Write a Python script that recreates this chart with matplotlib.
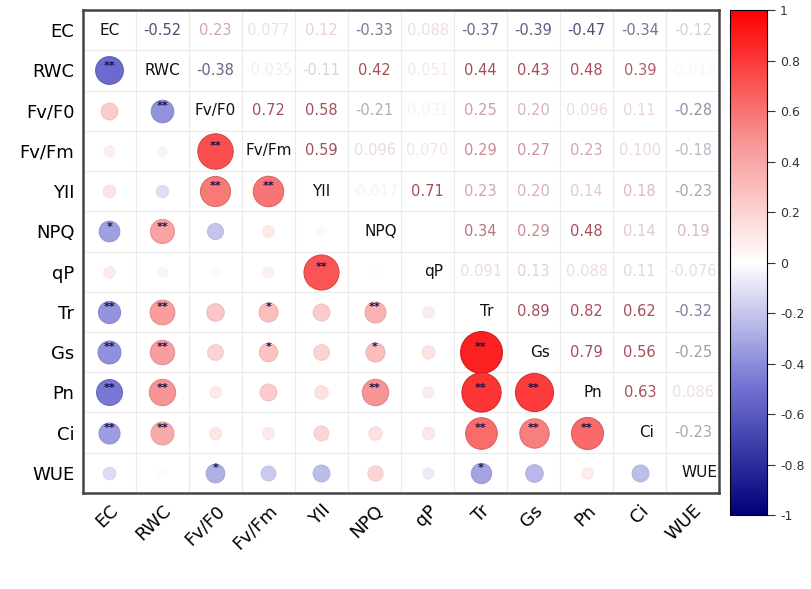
import numpy as np
import matplotlib
matplotlib.use("Agg")
import matplotlib.pyplot as plt
from matplotlib.colors import LinearSegmentedColormap, Normalize
from matplotlib.colorbar import ColorbarBase

labels = ["EC", "RWC", "Fv/F0", "Fv/Fm", "YII", "NPQ", "qP", "Tr", "Gs", "Pn", "Ci", "WUE"]

# upper triangle of the correlation matrix, row by row (diagonal excluded)
upper = [
    [-0.52, 0.23, 0.077, 0.12, -0.33, 0.088, -0.37, -0.39, -0.47, -0.34, -0.12],
    [-0.38, -0.035, -0.11, 0.42, 0.051, 0.44, 0.43, 0.48, 0.39, -0.012],
    [0.72, 0.58, -0.21, 0.031, 0.25, 0.20, 0.096, 0.11, -0.28],
    [0.59, 0.096, 0.070, 0.29, 0.27, 0.23, 0.0998, -0.18],
    [-0.017, 0.71, 0.23, 0.20, 0.14, 0.18, -0.23],
    [0.0, 0.34, 0.29, 0.48, 0.14, 0.19],
    [0.091, 0.13, 0.088, 0.11, -0.076],
    [0.89, 0.82, 0.62, -0.32],
    [0.79, 0.56, -0.25],
    [0.63, 0.086],
    [-0.23],
]

# significance marks for (row, col) in the lower triangle
stars = {
    (1, 0): "**", (2, 1): "**", (3, 2): "**", (4, 2): "**", (4, 3): "**",
    (5, 0): "*", (5, 1): "**", (6, 4): "**",
    (7, 0): "**", (7, 1): "**", (7, 3): "*", (7, 5): "**",
    (8, 0): "**", (8, 1): "**", (8, 3): "*", (8, 5): "*", (8, 7): "**",
    (9, 0): "**", (9, 1): "**", (9, 5): "**", (9, 7): "**", (9, 8): "**",
    (10, 0): "**", (10, 1): "**", (10, 7): "**", (10, 8): "**", (10, 9): "**",
    (11, 2): "*", (11, 7): "*",
}

n = len(labels)
corr = np.eye(n)
for i, row in enumerate(upper):
    for k, v in enumerate(row):
        j = i + 1 + k
        corr[i, j] = v
        corr[j, i] = v

cmap = LinearSegmentedColormap.from_list(
    "bwr_corr", [(0.0, "#00007a"), (0.25, "#7070d2"), (0.5, "#ffffff"),
                 (0.75, "#f89090"), (1.0, "#ff0000")])
norm = Normalize(-1, 1)

neg_text = np.array([80, 80, 118]) / 255
pos_text = np.array([168, 78, 88]) / 255


def fmt(v):
    if abs(v) < 0.1:
        return f"{v:.3f}"
    return f"{v:.2f}"


def text_color(v):
    if v == 0:
        return "white"
    w = min(1.0, 0.06 + abs(v) / 0.45) ** 1.2
    target = pos_text if v > 0 else neg_text
    return np.ones(3) * (1 - w) + target * w


fig = plt.figure(figsize=(8.11, 5.89), dpi=100)
ax = fig.add_axes([0.102, 0.163, 0.785, 0.82])
ax.set_xlim(-0.5, n - 0.5)
ax.set_ylim(n - 0.5, -0.5)

# cell grid
for g in np.arange(0.5, n - 0.5, 1):
    ax.axvline(g, color="#ebebeb", lw=0.8, zorder=0)
    ax.axhline(g, color="#ebebeb", lw=0.8, zorder=0)

for i in range(n):
    for j in range(n):
        v = corr[i, j]
        if i == j:
            dx = 0.12 if j >= 5 else 0.0
            ax.text(j + dx, i, labels[i], ha="center", va="center", fontsize=11, color="#111111")
        elif j > i:
            ax.text(j, i, fmt(v), ha="center", va="center", fontsize=10.5, color=text_color(v))
        else:
            d_px = 8 + 38 * abs(v)
            d_pt = d_px * 72 / 100
            fc = cmap(norm(v))
            ec = np.array(fc[:3]) * (1 - 0.2 * abs(v))
            ax.scatter(j, i, s=d_pt ** 2, color=fc, edgecolors=[ec], linewidths=0.8, zorder=2)
            if (i, j) in stars:
                ax.text(j, i - 0.12, stars[(i, j)], ha="center", va="center",
                        fontsize=8, color="#10104a", zorder=3, fontweight="bold")

ax.set_xticks(range(n))
ax.set_yticks(range(n))
ax.set_xticklabels(labels, rotation=45, ha="right", rotation_mode="anchor", fontsize=13)
ax.set_yticklabels(labels, fontsize=13)
ax.tick_params(length=0, pad=6)
for s in ax.spines.values():
    s.set_color("#444444")
    s.set_linewidth(1.8)

cax = fig.add_axes([0.900, 0.1256, 0.0456, 0.857])
cb = ColorbarBase(cax, cmap=cmap, norm=norm, ticks=np.linspace(-1, 1, 11))
cb.ax.set_yticklabels([f"{t:g}" for t in np.round(np.linspace(-1, 1, 11), 1)], fontsize=9,
                      color="#333333")
cb.ax.tick_params(length=6, width=0.8, color="#333333")
cb.outline.set_linewidth(0.8)

fig.savefig("out.png", dpi=100)
